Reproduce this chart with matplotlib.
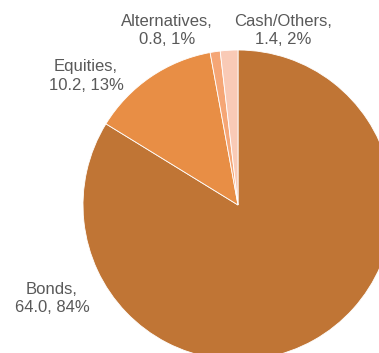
import matplotlib
matplotlib.use("Agg")
import matplotlib.pyplot as plt

categories = ["Bonds", "Equities", "Alternatives", "Cash/Others"]
values = [64.0, 10.2, 0.8, 1.4]
percents = [84, 13, 1, 2]
colors = ["#C07535", "#E88E45", "#F5A676", "#F9CAB6"]

# label anchor points in pixel space (x, y from top)
label_pos = [(52, 298), (86, 76), (167, 31), (283, 31)]

W, H = 379, 353
fig = plt.figure(figsize=(W / 100, H / 100), dpi=100)
ax = fig.add_axes([0, 0, 1, 1])

ax.pie(values, colors=colors, startangle=90, counterclock=False,
       center=(238, H - 205), radius=155,
       wedgeprops=dict(edgecolor="white", linewidth=0.6))

ax.set_xlim(0, W)
ax.set_ylim(0, H)
ax.set_aspect("equal")
ax.axis("off")

for cat, v, p, (x, y) in zip(categories, values, percents, label_pos):
    ax.text(x, H - y, f"{cat},\n{v:.1f}, {p}%", ha="center", va="center",
            fontsize=12, color="#595959", family="Liberation Sans",
            linespacing=1.25)

fig.savefig("out.png", dpi=100)
